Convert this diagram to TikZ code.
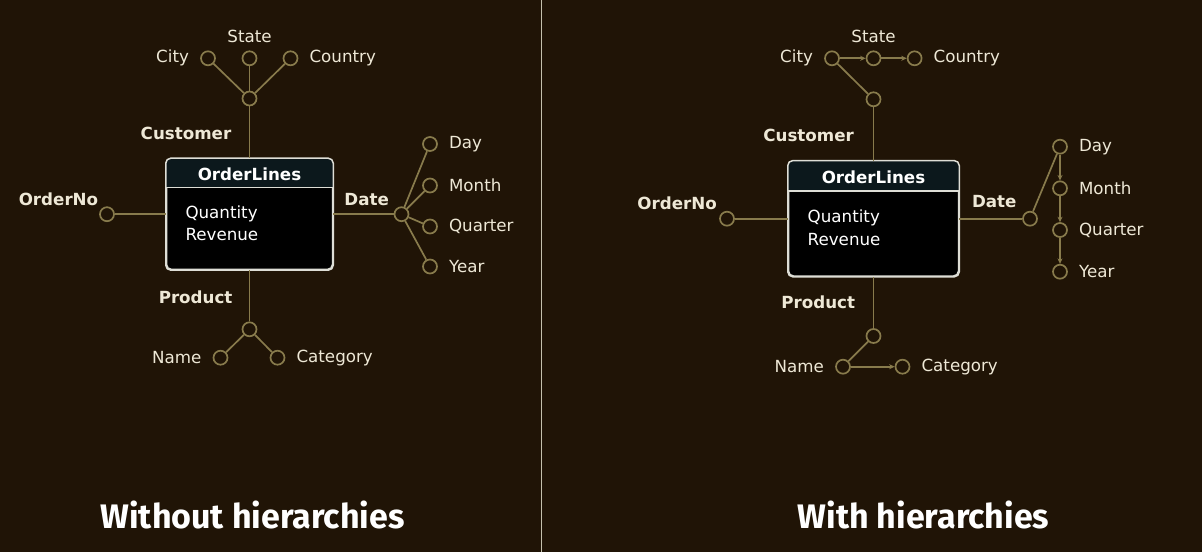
\documentclass[tikz,border=0pt]{standalone}
\usepackage{fontspec}
\setmainfont{DejaVu Sans}
\newfontfamily\titlefont{Fira Sans}
\usetikzlibrary{positioning,calc,arrows.meta}

\definecolor{bgbrown}{RGB}{32,20,6}
\definecolor{linekhaki}{RGB}{136,123,76}
\definecolor{labelcream}{RGB}{238,232,214}
\definecolor{headteal}{RGB}{12,24,28}
\definecolor{boxborder}{RGB}{222,222,214}

\begin{document}
\begin{tikzpicture}[
    x=1pt, y=-1pt,
    node distance=9pt,
    attrdot/.style={circle, draw=linekhaki, line width=1.7pt, minimum size=14pt, inner sep=0pt},
    lbl/.style={text=labelcream, font=\fontsize{16.7}{20}\selectfont, inner sep=2pt},
    role/.style={lbl, font=\fontsize{16.7}{20}\selectfont\bfseries},
    attrs/.style={text=white, font=\fontsize{16.7}{22.5}\selectfont, align=left, anchor=west, inner sep=0pt},
    entity/.style={draw=boxborder, line width=1.5pt, fill=black, rounded corners=5pt, inner sep=0pt},
    link/.style={draw=linekhaki, line width=1.7pt},
    hier/.style={link, -{Stealth[length=5.5pt,width=5pt]}},
    paneltitle/.style={text=white, font=\titlefont\fontsize{34}{38}\selectfont\bfseries}
]

% Background and panel divider
\fill[bgbrown] (0,0) rectangle (1202,552);
\useasboundingbox (0,0) rectangle (1202,552);
\coordinate (divtop) at (541.5,0);
\coordinate (divbot) at (541.5,552);
\draw[boxborder!70!linekhaki, line width=1pt] (divtop) -- (divbot);

% ---------- Left panel: without hierarchies ----------

% Fact table
\node (olA) [entity, minimum width=166pt, minimum height=110.5pt] at (249.5,214.2) {};
\begin{scope}
    \clip[rounded corners=5pt] (olA.north west) rectangle (olA.south east);
    \fill[headteal] (olA.north west) rectangle ($(olA.north east)+(0,29.5)$);
\end{scope}
\draw[boxborder, line width=1.5pt, rounded corners=5pt] (olA.north west) rectangle (olA.south east);
\draw[boxborder, line width=1.5pt] ($(olA.north west)+(0,29.5)$) -- ($(olA.north east)+(0,29.5)$);
\node (olAname) [role, text=white] at ($(olA.north)+(0,16.3)$) {OrderLines};
\node (olAattr) [attrs] at (185.3,223.5) {Quantity\\Revenue};

% Customer
\node (custA) [attrdot] at (249.5,98.5) {};
\node (cityA) [attrdot] at (208,58.3) {};
\node (stateA) [attrdot] at (249.5,58.3) {};
\node (countryA) [attrdot] at (290.5,58.3) {};
\node (cityAlbl) [lbl, left=of cityA] {City};
\node (stateAlbl) [lbl, above=6pt of stateA] {State};
\node (countryAlbl) [lbl, right=of countryA] {Country};
\node (custAlbl) [role] at (186,133) {Customer};

\draw[link] (custA) -- (cityA);
\draw[link] (custA) -- (stateA);
\draw[link] (custA) -- (countryA);
\draw[link] (custA) -- (olA);

% OrderNo
\node (ordA) [attrdot] at (107,214.2) {};
\node (ordAlbl) [role] at (58.5,199.3) {OrderNo};
\draw[link] (ordA) -- (olA);

% Date
\node (dateA) [attrdot] at (401.5,214.2) {};
\node (dateAlbl) [role] at (366.7,199.3) {Date};
\node (dayA) [attrdot] at (430,144) {};
\node (monthA) [attrdot] at (430,185.5) {};
\node (quarterA) [attrdot] at (430,226.5) {};
\node (yearA) [attrdot] at (430,266.5) {};
\node (dayAlbl) [lbl, right=of dayA] {Day};
\node (monthAlbl) [lbl, right=of monthA] {Month};
\node (quarterAlbl) [lbl, right=of quarterA] {Quarter};
\node (yearAlbl) [lbl, right=of yearA] {Year};

\draw[link] (olA) -- (dateA);
\draw[link] (dateA) -- (dayA);
\draw[link] (dateA) -- (monthA);
\draw[link] (dateA) -- (quarterA);
\draw[link] (dateA) -- (yearA);

% Product
\node (prodA) [attrdot] at (249.5,329.3) {};
\node (prodAlbl) [role] at (195.6,297.7) {Product};
\node (nameA) [attrdot] at (220.5,357.7) {};
\node (catA) [attrdot] at (277.5,357.7) {};
\node (nameAlbl) [lbl, left=of nameA] {Name};
\node (catAlbl) [lbl, right=of catA] {Category};

\draw[link] (olA) -- (prodA);
\draw[link] (prodA) -- (nameA);
\draw[link] (prodA) -- (catA);

\node (titleA) [paneltitle] at (252.5,514.5) {Without hierarchies};

% ---------- Right panel: with hierarchies ----------

% Fact table
\node (olB) [entity, minimum width=170pt, minimum height=114.7pt] at (873.5,218.7) {};
\begin{scope}
    \clip[rounded corners=5pt] (olB.north west) rectangle (olB.south east);
    \fill[headteal] (olB.north west) rectangle ($(olB.north east)+(0,30.4)$);
\end{scope}
\draw[boxborder, line width=1.5pt, rounded corners=5pt] (olB.north west) rectangle (olB.south east);
\draw[boxborder, line width=1.5pt] ($(olB.north west)+(0,30.4)$) -- ($(olB.north east)+(0,30.4)$);
\node (olBname) [role, text=white] at ($(olB.north)+(0,16.8)$) {OrderLines};
\node (olBattr) [attrs] at (807.5,228) {Quantity\\Revenue};

% Customer
\node (custB) [attrdot] at (873.5,99.3) {};
\node (cityB) [attrdot] at (832,58.3) {};
\node (stateB) [attrdot] at (873.5,58.3) {};
\node (countryB) [attrdot] at (914.6,58.3) {};
\node (cityBlbl) [lbl, left=of cityB] {City};
\node (stateBlbl) [lbl, above=6pt of stateB] {State};
\node (countryBlbl) [lbl, right=of countryB] {Country};
\node (custBlbl) [role] at (808.6,135.7) {Customer};

\draw[link] (custB) -- (cityB);
\draw[hier] (cityB) -- (stateB);
\draw[hier] (stateB) -- (countryB);
\draw[link] (custB) -- (olB);

% OrderNo
\node (ordB) [attrdot] at (727,218.7) {};
\node (ordBlbl) [role] at (677.1,203.3) {OrderNo};
\draw[link] (ordB) -- (olB);

% Date
\node (dateB) [attrdot] at (1030,218.7) {};
\node (dateBlbl) [role] at (994.3,201.7) {Date};
\node (dayB) [attrdot] at (1060,146.7) {};
\node (monthB) [attrdot] at (1060,188.3) {};
\node (quarterB) [attrdot] at (1060,230) {};
\node (yearB) [attrdot] at (1060,271.7) {};
\node (dayBlbl) [lbl, right=of dayB] {Day};
\node (monthBlbl) [lbl, right=of monthB] {Month};
\node (quarterBlbl) [lbl, right=of quarterB] {Quarter};
\node (yearBlbl) [lbl, right=of yearB] {Year};

\draw[link] (olB) -- (dateB);
\draw[link] (dateB) -- (dayB);
\draw[hier] (dayB) -- (monthB);
\draw[hier] (monthB) -- (quarterB);
\draw[hier] (quarterB) -- (yearB);

% Product
\node (prodB) [attrdot] at (873.5,336) {};
\node (prodBlbl) [role] at (818.2,302.7) {Product};
\node (nameB) [attrdot] at (843,366.7) {};
\node (catB) [attrdot] at (902.5,366.7) {};
\node (nameBlbl) [lbl, left=of nameB] {Name};
\node (catBlbl) [lbl, right=of catB] {Category};

\draw[link] (olB) -- (prodB);
\draw[link] (prodB) -- (nameB);
\draw[hier] (nameB) -- (catB);

\node (titleB) [paneltitle] at (923.5,514.5) {With hierarchies};

\end{tikzpicture}
\end{document}
